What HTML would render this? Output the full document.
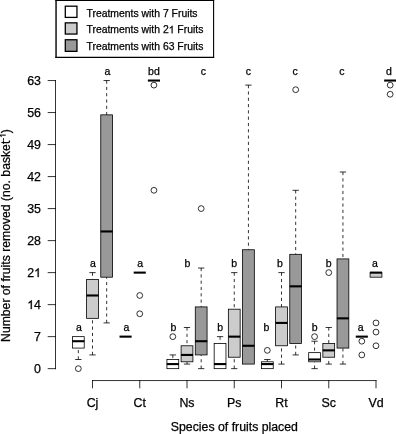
<!DOCTYPE html>
<html><head><meta charset="utf-8"><title>Boxplot</title>
<style>html,body{margin:0;padding:0;background:#fff}body{width:396px;height:434px;overflow:hidden;font-family:"Liberation Sans",sans-serif}</style>
</head><body>
<svg width="396" height="434" viewBox="0 0 396 434" style="display:block;will-change:transform;opacity:0.999">
<rect width="396" height="434" fill="#fff"/>
<g font-family="Liberation Sans, sans-serif" fill="#000" class="t">
<style>text{stroke:#000;stroke-width:0.25px;paint-order:stroke}.h{fill:none;stroke:none}</style>
<g stroke="#000" stroke-width="0.8" fill="none" stroke-linecap="square">
<path d="M55.5 80.55V368.65"/>
<path d="M48.2 368.65H55.5"/>
<path d="M48.2 336.64H55.5"/>
<path d="M48.2 304.63H55.5"/>
<path d="M48.2 272.62H55.5"/>
<path d="M48.2 240.61H55.5"/>
<path d="M48.2 208.59H55.5"/>
<path d="M48.2 176.58H55.5"/>
<path d="M48.2 144.57H55.5"/>
<path d="M48.2 112.56H55.5"/>
<path d="M48.2 80.55H55.5"/>
<path d="M92.50 380.55H376.00"/>
<path d="M92.50 380.55V387.8"/>
<path d="M139.75 380.55V387.8"/>
<path d="M187.00 380.55V387.8"/>
<path d="M234.25 380.55V387.8"/>
<path d="M281.50 380.55V387.8"/>
<path d="M328.75 380.55V387.8"/>
<path d="M376.00 380.55V387.8"/>
</g>
<text x="41.0" y="373.10" font-size="12.4" text-anchor="end">0</text>
<text x="41.0" y="341.09" font-size="12.4" text-anchor="end">7</text>
<text x="41.0" y="309.08" font-size="12.4" text-anchor="end"><tspan class="h">1</tspan>4</text>
<text x="41.0" y="277.07" font-size="12.4" text-anchor="end">2<tspan class="h">1</tspan></text>
<text x="41.0" y="245.06" font-size="12.4" text-anchor="end">28</text>
<text x="41.0" y="213.04" font-size="12.4" text-anchor="end">35</text>
<text x="41.0" y="181.03" font-size="12.4" text-anchor="end">42</text>
<text x="41.0" y="149.02" font-size="12.4" text-anchor="end">49</text>
<text x="41.0" y="117.01" font-size="12.4" text-anchor="end">56</text>
<text x="41.0" y="85.00" font-size="12.4" text-anchor="end">63</text>
<text x="92.50" y="406.9" font-size="12.4" text-anchor="middle">Cj</text>
<text x="139.75" y="406.9" font-size="12.4" text-anchor="middle">Ct</text>
<text x="187.00" y="406.9" font-size="12.4" text-anchor="middle">Ns</text>
<text x="234.25" y="406.9" font-size="12.4" text-anchor="middle">Ps</text>
<text x="281.50" y="406.9" font-size="12.4" text-anchor="middle">Rt</text>
<text x="328.75" y="406.9" font-size="12.4" text-anchor="middle">Sc</text>
<text x="376.00" y="406.9" font-size="12.4" text-anchor="middle">Vd</text>
<text x="170.8" y="431.2" font-size="12.3" text-anchor="start">Species of fruits placed</text>
<text transform="translate(9.8 341.9) rotate(-90)" font-size="12.2" text-anchor="start">Number of fruits removed (no. basket<tspan font-size="8.5" dy="-4.2">-<tspan class="h">1</tspan></tspan><tspan dy="4.2">)</tspan></text>
<g stroke="#000" stroke-width="0.8" fill="none">
<path d="M78.33 359.50V348.07" stroke-dasharray="3.15 3.15"/>
<path d="M75.17 359.50H81.48"/>
<rect x="72.42" y="336.64" width="11.80" height="11.43" fill="#ffffff"/>
<path d="M72.27 341.21H84.38" stroke-width="2.1"/>
<circle cx="78.33" cy="368.65" r="2.9"/>
</g>
<text x="78.88" y="331.45" font-size="10.5" text-anchor="middle">a</text>
<g stroke="#000" stroke-width="0.8" fill="none">
<path d="M92.50 272.62V279.48" stroke-dasharray="3.15 3.15"/>
<path d="M89.35 272.62H95.65"/>
<path d="M92.50 354.93V318.35" stroke-dasharray="3.15 3.15"/>
<path d="M89.35 354.93H95.65"/>
<rect x="86.60" y="279.48" width="11.80" height="38.87" fill="#cccccc"/>
<path d="M86.45 295.48H98.55" stroke-width="2.1"/>
</g>
<text x="93.00" y="266.7" font-size="10.5" text-anchor="middle">a</text>
<g stroke="#000" stroke-width="0.8" fill="none">
<path d="M106.67 80.55V114.85" stroke-dasharray="3.15 3.15"/>
<path d="M103.52 80.55H109.83"/>
<path d="M106.67 322.92V277.19" stroke-dasharray="3.15 3.15"/>
<path d="M103.52 322.92H109.83"/>
<rect x="100.77" y="114.85" width="11.80" height="162.34" fill="#999999"/>
<path d="M100.62 231.46H112.73" stroke-width="2.1"/>
</g>
<text x="107.47" y="74.9" font-size="10.5" text-anchor="middle">a</text>
<g stroke="#000" stroke-width="0.8" fill="none">
<path d="M119.52 336.64H131.62" stroke-width="2.1"/>
</g>
<text x="126.38" y="331.45" font-size="10.5" text-anchor="middle">a</text>
<g stroke="#000" stroke-width="0.8" fill="none">
<path d="M133.70 272.62H145.80" stroke-width="2.1"/>
<circle cx="139.75" cy="295.48" r="2.9"/>
<circle cx="139.75" cy="313.77" r="2.9"/>
</g>
<text x="140.25" y="266.7" font-size="10.5" text-anchor="middle">a</text>
<g stroke="#000" stroke-width="0.8" fill="none">
<path d="M147.88 80.55H159.98" stroke-width="2.1"/>
<circle cx="153.93" cy="85.12" r="2.9"/>
<circle cx="153.93" cy="190.30" r="2.9"/>
</g>
<text x="153.93" y="74.9" font-size="10.5" text-anchor="middle">bd</text>
<g stroke="#000" stroke-width="0.8" fill="none">
<path d="M172.82 354.93V359.50" stroke-dasharray="3.15 3.15"/>
<path d="M169.67 354.93H175.97"/>
<rect x="166.92" y="359.50" width="11.80" height="9.15" fill="#ffffff"/>
<path d="M166.77 364.08H178.88" stroke-width="2.1"/>
<circle cx="172.82" cy="336.64" r="2.9"/>
</g>
<text x="173.42" y="330.8" font-size="10.5" text-anchor="middle">b</text>
<g stroke="#000" stroke-width="0.8" fill="none">
<path d="M187.00 327.49V345.78" stroke-dasharray="3.15 3.15"/>
<path d="M183.85 327.49H190.15"/>
<path d="M187.00 364.08V361.79" stroke-dasharray="3.15 3.15"/>
<path d="M183.85 364.08H190.15"/>
<rect x="181.10" y="345.78" width="11.80" height="16.01" fill="#cccccc"/>
<path d="M180.95 354.93H193.05" stroke-width="2.1"/>
</g>
<text x="187.30" y="266.7" font-size="10.5" text-anchor="middle">b</text>
<g stroke="#000" stroke-width="0.8" fill="none">
<path d="M201.18 268.04V306.91" stroke-dasharray="3.15 3.15"/>
<path d="M198.03 268.04H204.33"/>
<path d="M201.18 368.65V354.93" stroke-dasharray="3.15 3.15"/>
<path d="M198.03 368.65H204.33"/>
<rect x="195.28" y="306.91" width="11.80" height="48.02" fill="#999999"/>
<path d="M195.12 341.21H207.23" stroke-width="2.1"/>
<circle cx="201.18" cy="208.59" r="2.9"/>
</g>
<text x="203.38" y="74.9" font-size="10.5" text-anchor="middle">c</text>
<g stroke="#000" stroke-width="0.8" fill="none">
<path d="M220.07 336.64V343.50" stroke-dasharray="3.15 3.15"/>
<path d="M216.92 336.64H223.22"/>
<rect x="214.17" y="343.50" width="11.80" height="25.15" fill="#ffffff"/>
<path d="M214.02 364.08H226.12" stroke-width="2.1"/>
</g>
<text x="220.07" y="330.8" font-size="10.5" text-anchor="middle">b</text>
<g stroke="#000" stroke-width="0.8" fill="none">
<path d="M234.25 272.62V309.20" stroke-dasharray="3.15 3.15"/>
<path d="M231.10 272.62H237.40"/>
<path d="M234.25 368.65V357.22" stroke-dasharray="3.15 3.15"/>
<path d="M231.10 368.65H237.40"/>
<rect x="228.35" y="309.20" width="11.80" height="48.02" fill="#cccccc"/>
<path d="M228.20 336.64H240.30" stroke-width="2.1"/>
</g>
<text x="234.25" y="266.7" font-size="10.5" text-anchor="middle">b</text>
<g stroke="#000" stroke-width="0.8" fill="none">
<path d="M248.43 85.12V249.75" stroke-dasharray="3.15 3.15"/>
<path d="M245.28 85.12H251.58"/>
<rect x="242.53" y="249.75" width="11.80" height="114.33" fill="#999999"/>
<path d="M242.38 345.78H254.48" stroke-width="2.1"/>
</g>
<text x="248.43" y="74.9" font-size="10.5" text-anchor="middle">c</text>
<g stroke="#000" stroke-width="0.8" fill="none">
<path d="M267.32 359.50V361.79" stroke-dasharray="3.15 3.15"/>
<path d="M264.18 359.50H270.47"/>
<rect x="261.43" y="361.79" width="11.80" height="6.86" fill="#ffffff"/>
<path d="M261.28 364.08H273.37" stroke-width="2.1"/>
<circle cx="267.32" cy="350.36" r="2.9"/>
</g>
<text x="266.43" y="330.8" font-size="10.5" text-anchor="middle">b</text>
<g stroke="#000" stroke-width="0.8" fill="none">
<path d="M281.50 272.62V306.91" stroke-dasharray="3.15 3.15"/>
<path d="M278.35 272.62H284.65"/>
<path d="M281.50 364.08V345.78" stroke-dasharray="3.15 3.15"/>
<path d="M278.35 364.08H284.65"/>
<rect x="275.60" y="306.91" width="11.80" height="38.87" fill="#cccccc"/>
<path d="M275.45 322.92H287.55" stroke-width="2.1"/>
</g>
<text x="279.80" y="266.7" font-size="10.5" text-anchor="middle">b</text>
<g stroke="#000" stroke-width="0.8" fill="none">
<path d="M295.68 190.30V254.32" stroke-dasharray="3.15 3.15"/>
<path d="M292.53 190.30H298.82"/>
<path d="M295.68 354.93V343.50" stroke-dasharray="3.15 3.15"/>
<path d="M292.53 354.93H298.82"/>
<rect x="289.78" y="254.32" width="11.80" height="89.17" fill="#999999"/>
<path d="M289.63 286.34H301.72" stroke-width="2.1"/>
<circle cx="295.68" cy="89.70" r="2.9"/>
</g>
<text x="295.07" y="74.9" font-size="10.5" text-anchor="middle">c</text>
<g stroke="#000" stroke-width="0.8" fill="none">
<path d="M314.57 341.21V352.64" stroke-dasharray="3.15 3.15"/>
<path d="M311.43 341.21H317.72"/>
<path d="M314.57 368.65V361.79" stroke-dasharray="3.15 3.15"/>
<path d="M311.43 368.65H317.72"/>
<rect x="308.68" y="352.64" width="11.80" height="9.15" fill="#ffffff"/>
<path d="M308.53 359.50H320.62" stroke-width="2.1"/>
<circle cx="314.57" cy="336.64" r="2.9"/>
</g>
<text x="314.57" y="330.8" font-size="10.5" text-anchor="middle">b</text>
<g stroke="#000" stroke-width="0.8" fill="none">
<path d="M328.75 327.49V343.50" stroke-dasharray="3.15 3.15"/>
<path d="M325.60 327.49H331.90"/>
<path d="M328.75 364.08V357.22" stroke-dasharray="3.15 3.15"/>
<path d="M325.60 364.08H331.90"/>
<rect x="322.85" y="343.50" width="11.80" height="13.72" fill="#cccccc"/>
<path d="M322.70 350.36H334.80" stroke-width="2.1"/>
<circle cx="328.75" cy="272.62" r="2.9"/>
</g>
<text x="328.75" y="266.7" font-size="10.5" text-anchor="middle">b</text>
<g stroke="#000" stroke-width="0.8" fill="none">
<path d="M342.93 172.01V258.90" stroke-dasharray="3.15 3.15"/>
<path d="M339.78 172.01H346.07"/>
<path d="M342.93 364.08V348.07" stroke-dasharray="3.15 3.15"/>
<path d="M339.78 364.08H346.07"/>
<rect x="337.03" y="258.90" width="11.80" height="89.17" fill="#999999"/>
<path d="M336.88 318.35H348.97" stroke-width="2.1"/>
</g>
<text x="341.93" y="74.9" font-size="10.5" text-anchor="middle">c</text>
<g stroke="#000" stroke-width="0.8" fill="none">
<path d="M355.78 336.64H367.87" stroke-width="2.1"/>
<circle cx="361.82" cy="341.21" r="2.9"/>
<circle cx="361.82" cy="354.93" r="2.9"/>
</g>
<text x="360.72" y="331.3" font-size="10.5" text-anchor="middle">a</text>
<g stroke="#000" stroke-width="0.8" fill="none">
<rect x="370.10" y="272.62" width="11.80" height="4.57" fill="#cccccc"/>
<path d="M369.95 272.62H382.05" stroke-width="2.1"/>
<circle cx="376.00" cy="322.92" r="2.9"/>
<circle cx="376.00" cy="332.07" r="2.9"/>
<circle cx="376.00" cy="345.78" r="2.9"/>
</g>
<text x="375.00" y="266.7" font-size="10.5" text-anchor="middle">a</text>
<g stroke="#000" stroke-width="0.8" fill="none">
<path d="M384.13 80.55H396.22" stroke-width="2.1"/>
<circle cx="390.18" cy="85.12" r="2.9"/>
<circle cx="390.18" cy="94.27" r="2.9"/>
</g>
<text x="388.88" y="74.7" font-size="10.5" text-anchor="middle">d</text>
<path d="M56.05 -0.1V57.95" stroke="#000" stroke-width="1.4" fill="none"/><path d="M213.6 -0.1V57.95" stroke="#000" stroke-width="1.1" fill="none"/><path d="M55.35 0.45H214.15" stroke="#000" stroke-width="1.1" fill="none"/><path d="M55.35 57.35H214.15" stroke="#000" stroke-width="1.2" fill="none"/>
<rect x="65.3" y="6.2" width="11.65" height="11.2" fill="#ffffff" stroke="#000" stroke-width="1.3"/>
<text x="86.5" y="16.65" font-size="10.4">Treatments with 7 Fruits</text>
<rect x="65.3" y="22.85" width="11.65" height="11.2" fill="#cccccc" stroke="#000" stroke-width="1.3"/>
<text x="86.5" y="33.3" font-size="10.4">Treatments with 2<tspan class="h">1</tspan> Fruits</text>
<rect x="65.3" y="39.75" width="11.65" height="11.6" fill="#999999" stroke="#000" stroke-width="1.3"/>
<text x="86.5" y="49.95" font-size="10.4">Treatments with 63 Fruits</text>
<g fill="#000" stroke="#000" stroke-width="0.25" vector-effect="non-scaling-stroke"><path transform=" translate(27.203 309.080) scale(0.006055 -0.006055)" d="M763 0H583V1147Q518 1085 412.5 1023T223 930V1104Q373 1174.5 485 1275T644 1466H763Z" vector-effect="non-scaling-stroke"/><path transform=" translate(34.094 277.070) scale(0.006055 -0.006055)" d="M763 0H583V1147Q518 1085 412.5 1023T223 930V1104Q373 1174.5 485 1275T644 1466H763Z" vector-effect="non-scaling-stroke"/><path transform="translate(9.8 341.9) rotate(-90) translate(204.016 -4.200) scale(0.004150 -0.004150)" d="M763 0H583V1147Q518 1085 412.5 1023T223 930V1104Q373 1174.5 485 1275T644 1466H763Z" vector-effect="non-scaling-stroke"/><path transform=" translate(168.688 33.300) scale(0.005078 -0.005078)" d="M763 0H583V1147Q518 1085 412.5 1023T223 930V1104Q373 1174.5 485 1275T644 1466H763Z" vector-effect="non-scaling-stroke"/></g></g></svg>
</body></html>
